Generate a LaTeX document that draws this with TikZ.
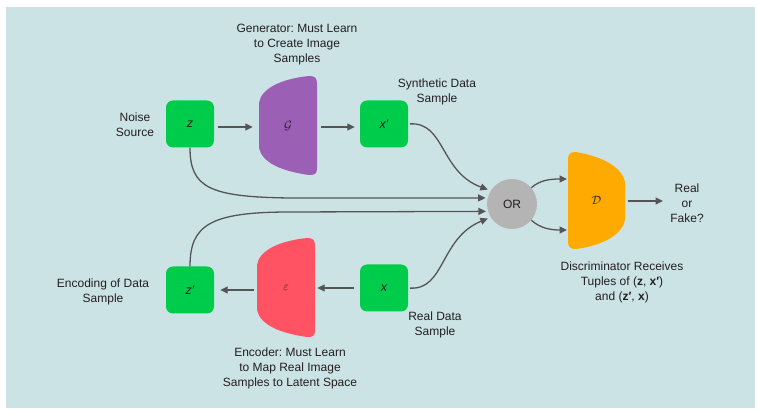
\documentclass[tikz,border=0pt]{standalone}
\usepackage{fontspec}
\setmainfont{Liberation Sans}
\usetikzlibrary{arrows.meta}
\frenchspacing
\definecolor{panel}{RGB}{204,227,229}
\definecolor{boxgreen}{RGB}{0,204,76}
\definecolor{genpurple}{RGB}{155,95,181}
\definecolor{encred}{RGB}{255,82,98}
\definecolor{discorange}{RGB}{255,170,0}
\definecolor{orgray}{RGB}{180,180,180}
\definecolor{linegray}{RGB}{85,85,85}
\definecolor{ink}{RGB}{35,31,32}
\begin{document}
\begin{tikzpicture}[x=1pt,y=-1pt,
  every node/.style={text=ink},
  varbox/.style={fill=boxgreen,rounded corners=7pt,minimum width=48pt,minimum height=47pt,inner sep=0pt,font=\fontsize{12.5}{14}\selectfont\itshape},
  orcircle/.style={circle,fill=orgray,minimum size=50pt,inner sep=0pt,font=\fontsize{12}{14}\selectfont},
  netarea/.style={minimum width=58pt,minimum height=99pt,inner sep=0pt,font=\fontsize{13}{15}\selectfont},
  caption/.style={align=center,font=\fontsize{12}{15}\selectfont},
  arr/.style={draw=linegray,line width=1.3pt,-{Triangle[length=7.5pt,width=7pt]}}
]
% background panel and page size
\useasboundingbox (0,0) rectangle (758,411);
\fill[panel] (6,7) rectangle (755,408);

% generator body (flat right side)
\fill[genpurple] (259,103) .. controls (261,89) and (280,79) .. (309,76)
  .. controls (315,76) and (317,78) .. (317,84) -- (317,168)
  .. controls (317,174) and (315,175) .. (309,175)
  .. controls (280,171) and (262,162) .. (259,148) -- cycle;
% encoder body (flat right side)
\fill[encred] (257,265) .. controls (259,251) and (278,241) .. (307,238)
  .. controls (313,238) and (315,240) .. (315,246) -- (315,330)
  .. controls (315,336) and (313,337) .. (307,337)
  .. controls (278,333) and (260,324) .. (257,310) -- cycle;
% discriminator body (flat left side)
\fill[discorange] (568,160) .. controls (568,154) and (570,152) .. (576,152)
  .. controls (605,157) and (622,168) .. (625,182) -- (625,220)
  .. controls (622,234) and (605,245) .. (576,249)
  .. controls (570,249) and (568,247) .. (568,241) -- cycle;

% network labels
\node[netarea] (G) at (288,125.5) {$\mathcal{G}$};
\node[netarea] (E) at (286,287.5) {$\varepsilon$};
\node[netarea,minimum height=97pt] (D) at (596.5,200.5) {$\mathcal{D}$};

% variable boxes
\node[varbox] (z) at (190,124) {z};
\node[varbox] (xp) at (384,124) {x′};
\node[varbox] (zp) at (190,290) {z′};
\node[varbox] (x) at (384,288) {x};
\node[orcircle] (or) at (512,204) {OR};

% captions
\node[caption] (noise) at (135,125) {Noise\\Source};
\node[caption] (gentext) at (297,45) {Generator: Must Learn\\to Create Image\\Samples};
\node[caption] (syntext) at (437,92) {Synthetic Data\\Sample};
\node[caption] (out) at (687,203) {Real\\or\\Fake?};
\node[caption] (disctext) at (622,282) {Discriminator Receives\\Tuples of (\textbf{z}, \textbf{x′})\\and (\textbf{z′}, \textbf{x})};
\node[caption] (enctext) at (103,292) {Encoding of Data\\Sample};
\node[caption] (realtext) at (435,325) {Real Data\\Sample};
\node[caption] (encnote) at (290,368) {Encoder: Must Learn\\to Map Real Image\\Samples to Latent Space};
\coordinate (outin) at (663,201);

% straight arrows
\draw[arr,shorten <=4pt,shorten >=6pt] (z.east |- 0,127) -- (G.west |- 0,127);
\draw[arr,shorten <=4pt,shorten >=5pt] (G.east |- 0,127) -- (xp.west |- 0,127);
\draw[arr,shorten <=6pt,shorten >=2pt] (x.west) -- (E.east |- x.west);
\draw[arr,shorten <=3pt,shorten >=6pt] (E.west |- zp.east) -- (zp.east);
\draw[arr,shorten <=2pt] (D.east |- outin) -- (outin);

% paths into the OR node
\draw[arr,shorten >=2pt] (z.south) .. controls (190,188) and (210,197) .. (290,198) -- (or.166);
\draw[arr,shorten >=2pt] (zp.north) .. controls (190,225) and (210,212) .. (290,212) -- (or.197);
\draw[arr,shorten <=2pt,shorten >=3pt] (xp.east) .. controls (445,122) and (440,172) .. (or.148);
\draw[arr,shorten <=2pt,shorten >=3pt] (x.east) .. controls (445,290) and (440,238) .. (or.212);

% OR node to discriminator
\draw[arr] (or.40) .. controls (540,180) and (550,179) .. (567,179);
\draw[arr] (or.-40) .. controls (540,228) and (550,230) .. (567,230);
\end{tikzpicture}
\end{document}
